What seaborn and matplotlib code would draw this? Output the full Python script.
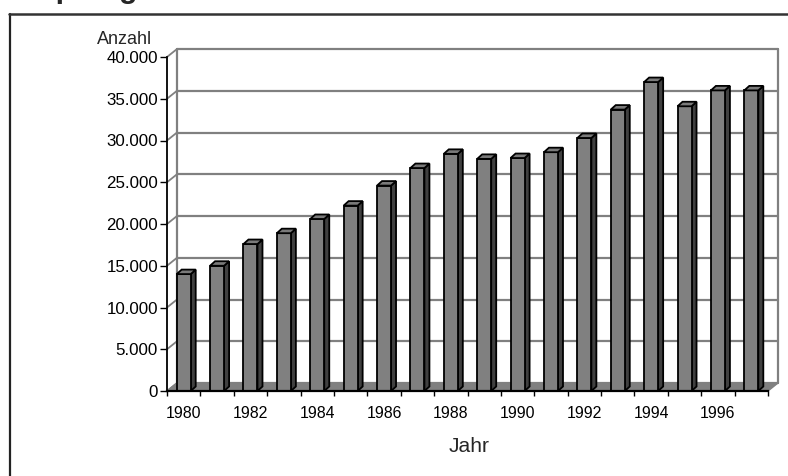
import matplotlib
matplotlib.use("Agg")
import matplotlib.pyplot as plt
from matplotlib.lines import Line2D
from matplotlib.patches import Polygon
from matplotlib.ticker import FixedLocator, FuncFormatter
import pandas as pd
import seaborn as sns

# Data
years = list(range(1980, 1998))
anzahl = [14000, 15000, 17600, 18900, 20600, 22200, 24600, 26700, 28400,
          27800, 27900, 28600, 30300, 33700, 37000, 34100, 36000, 36000]
y_ticks = [0, 5000, 10000, 15000, 20000, 25000, 30000, 35000, 40000]
labelled_years = [1980, 1982, 1984, 1986, 1988, 1990, 1992, 1994, 1996]

title = "Empfänger"
x_title = "Jahr"
y_title = "Anzahl"

sns.set_style("white")
plt.rcParams["font.family"] = ["Liberation Sans", "DejaVu Sans"]

W, H = 788, 476
fig = plt.figure(figsize=(W / 100, H / 100), dpi=100)
ax = fig.add_axes([167 / W, 1 - 391 / H, (768 - 167) / W, (391 - 57) / H])

df = pd.DataFrame({"Jahr": [str(y) for y in years], "Anzahl": anzahl})
sns.barplot(data=df, x="Jahr", y="Anzahl", color="#808080", saturation=1,
            width=0.42, edgecolor="black", linewidth=1.3, ax=ax, zorder=4)

n = len(years)
ax.set_xlim(-0.5, n - 0.5)
ax.set_ylim(y_ticks[0], y_ticks[-1])
ymax = y_ticks[-1]


def px_to_data(dx_px, dy_px):
    """Convert a screen offset in pixels to data units of the axes."""
    x0, x1 = ax.get_xlim()
    y0, y1 = ax.get_ylim()
    return (dx_px * (x1 - x0) / ax.bbox.width,
            dy_px * (y1 - y0) / ax.bbox.height)


# depth of the floor/back wall and of the bars (pseudo 3-D)
fx, fy = px_to_data(10, 8)
bx, by = px_to_data(5, 4.5)

grid_col = "#808080"
# back wall gridlines and the slanted lines on the side wall
for v in y_ticks:
    ax.plot([-0.5 + fx, n - 0.5 + fx], [v + fy, v + fy], color=grid_col,
            lw=1.6, clip_on=False, zorder=1)
    ax.plot([-0.5, -0.5 + fx], [v, v + fy], color=grid_col, lw=1.3,
            clip_on=False, zorder=1)
for xe in (-0.5 + fx, n - 0.5 + fx):
    ax.plot([xe, xe], [fy, ymax + fy], color=grid_col, lw=1.6,
            clip_on=False, zorder=1)

# floor
floor = Polygon([(-0.5, 0), (n - 0.5, 0), (n - 0.5 + fx, fy), (-0.5 + fx, fy)],
                closed=True, facecolor="#808080", edgecolor="#808080",
                lw=1, clip_on=False, zorder=2)
ax.add_patch(floor)

# side and top faces of the columns
for bar in list(ax.patches):
    if bar is floor:
        continue
    x0 = bar.get_x()
    w = bar.get_width()
    h = bar.get_height()
    side = Polygon([(x0 + w, 0), (x0 + w + bx, by), (x0 + w + bx, h + by),
                    (x0 + w, h)], closed=True, facecolor="#404040",
                   edgecolor="black", lw=1.3, clip_on=False, zorder=3)
    top = Polygon([(x0, h), (x0 + w, h), (x0 + w + bx, h + by),
                   (x0 + bx, h + by)], closed=True, facecolor="#7a7a7a",
                  edgecolor="black", lw=1.3, clip_on=False, zorder=5)
    ax.add_patch(side)
    ax.add_patch(top)

# axes styling
for s in ("top", "right"):
    ax.spines[s].set_visible(False)
ax.spines["left"].set_color("black")
ax.spines["left"].set_linewidth(1.3)
ax.spines["bottom"].set_color("black")
ax.spines["bottom"].set_linewidth(1.6)
ax.spines["bottom"].set_zorder(6)

ax.yaxis.set_major_locator(FixedLocator(y_ticks))
ax.yaxis.set_major_formatter(FuncFormatter(lambda v, p: f"{v:,.0f}".replace(",", ".")))
ax.tick_params(axis="y", which="major", left=True, length=5, width=1,
               color="black", pad=1.5, labelsize=12.2, labelcolor="black")

pos = [years.index(y) for y in labelled_years]
ax.set_xticks(pos)
ax.set_xticklabels([str(y) for y in labelled_years])
ax.set_xticks([i - 0.5 for i in range(n + 1)], minor=True)
ax.tick_params(axis="x", which="major", bottom=True, length=0, pad=10.5,
               labelsize=11.4, labelcolor="black")
ax.tick_params(axis="x", which="minor", bottom=True, length=3.8, width=1,
               color="black")
ax.set_xlabel("")
ax.set_ylabel("")
ax.grid(False)

fig.text(97 / W, 1 - 39 / H, y_title, ha="left", va="center", fontsize=13)
fig.text(469 / W, 1 - 446 / H, x_title, ha="center", va="center", fontsize=15.1)

# heading partly above the canvas
fig.text(9 / W, 1 + 1.5 / H, title, ha="left", va="baseline",
         fontsize=21.6, fontweight="bold")

# outer frame
fig.add_artist(Line2D([9.5 / W, 9.5 / W], [0, 1 - 14 / H], color="#222222", lw=1.6))
fig.add_artist(Line2D([9 / W, 1], [1 - 14 / H, 1 - 14 / H], color="#333333", lw=1.8))

fig.savefig("out.png", dpi=100)
